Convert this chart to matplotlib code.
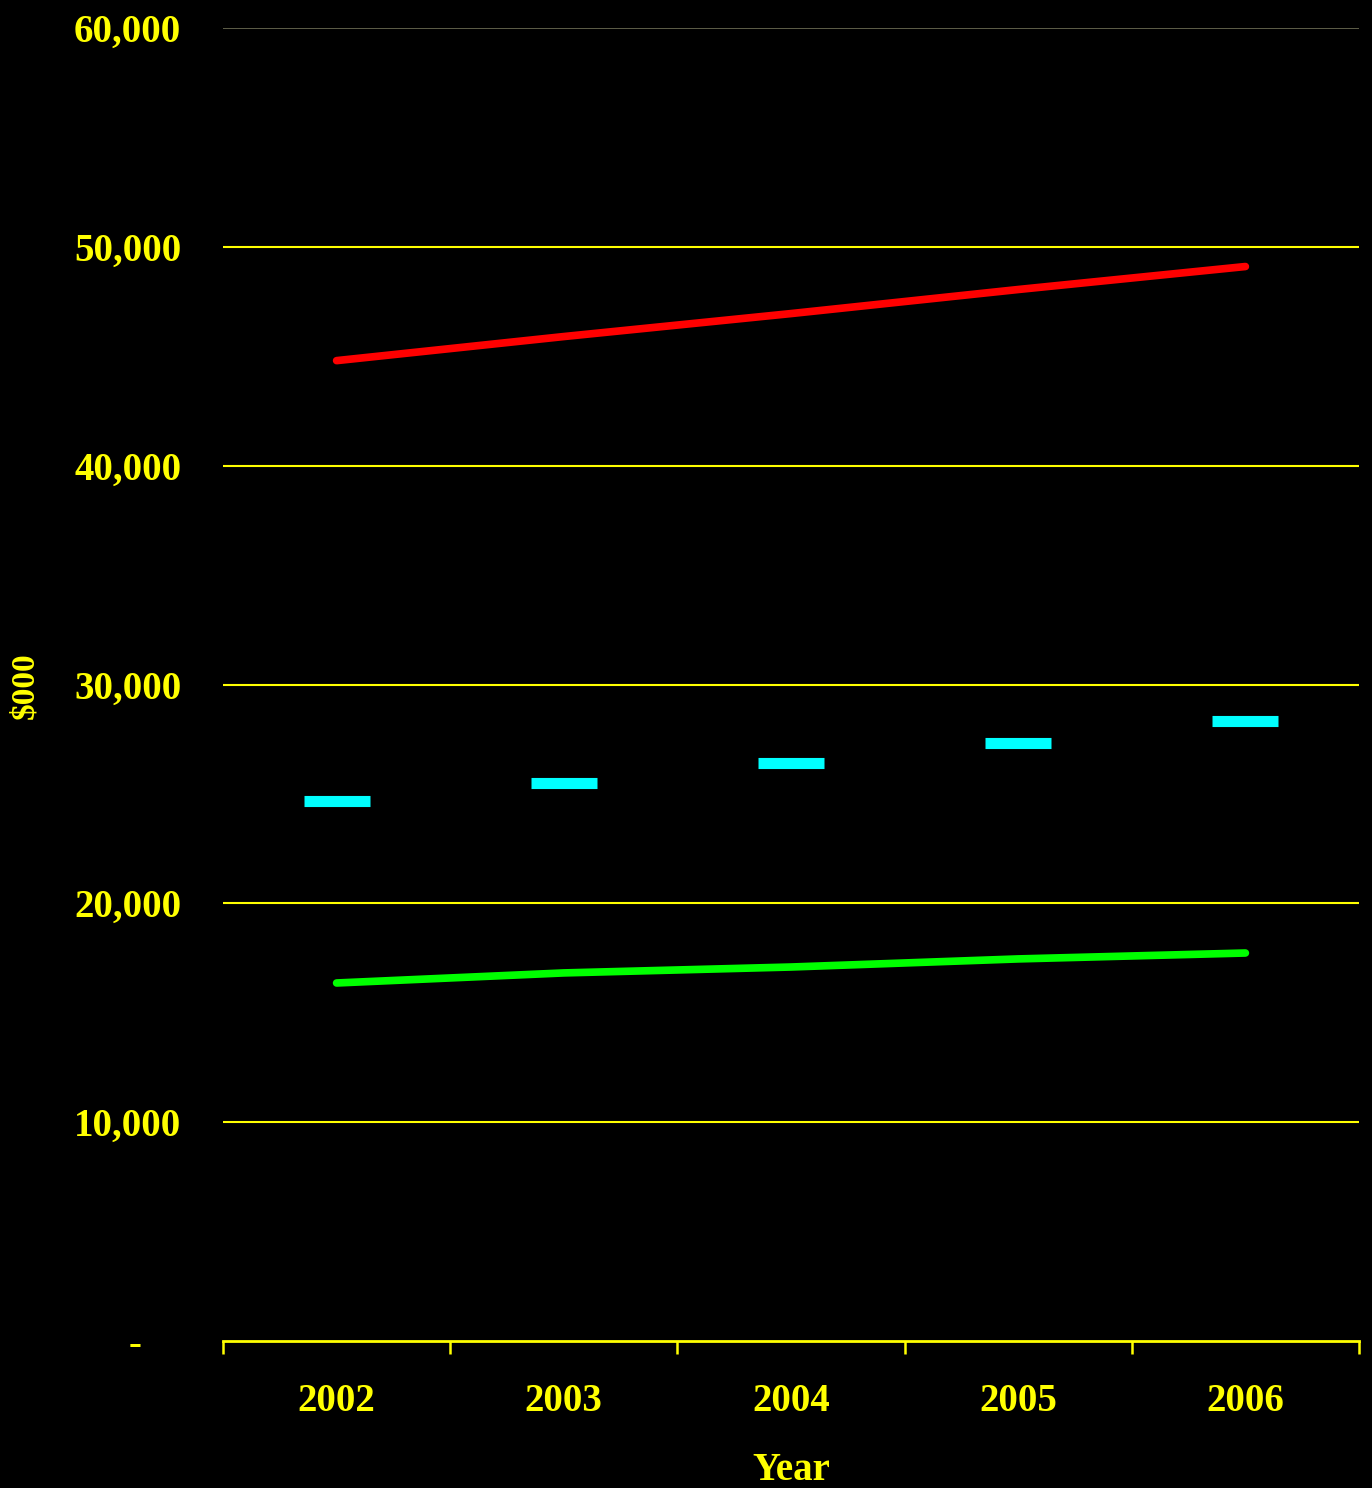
import numpy as np
import matplotlib
matplotlib.use("Agg")
import matplotlib.pyplot as plt
from matplotlib.ticker import FixedLocator, FuncFormatter

years = ["2002", "2003", "2004", "2005", "2006"]
upper = [44800, 45900, 46950, 48050, 49100]     # red line
middle = [24660, 25480, 26420, 27330, 28340]    # cyan dashes
lower = [16360, 16820, 17090, 17460, 17730]     # green line
yticks = [0, 10000, 20000, 30000, 40000, 50000, 60000]

YEL = "#ffff00"
plt.rcParams["font.family"] = ["Liberation Serif", "DejaVu Serif"]
plt.rcParams["font.weight"] = "bold"

fig = plt.figure(figsize=(13.72, 14.88), dpi=100, facecolor="black")
ax = fig.add_axes([223 / 1372, 1 - 1341 / 1488, 1136 / 1372, 1313 / 1488])
ax.set_facecolor("black")

x = np.arange(len(years))
ax.plot(x, upper, color="#ff0000", lw=5.5, solid_capstyle="round", zorder=3)
ax.plot(x, lower, color="#00ff00", lw=5.5, solid_capstyle="round", zorder=3)
ax.plot(x, middle, ls="none", marker="_", ms=47, mew=8, color="#00ffff", zorder=3)

ax.set_xlim(-0.5, len(years) - 0.5)
ax.set_ylim(0, 60000)

# y axis
ax.yaxis.set_major_locator(FixedLocator(yticks))
ax.yaxis.set_major_formatter(FuncFormatter(lambda v, p: "-    " if v == 0 else f"{int(v):,}"))
ax.tick_params(axis="y", length=0, pad=30, labelsize=28, labelcolor=YEL)
ax.yaxis.grid(True, color=YEL, lw=1.5)
gl = ax.yaxis.get_gridlines()
gl[0].set_visible(False)
gl[-1].set_color("#5e5e48")
gl[-1].set_linewidth(1.4)

# x axis: ticks at category borders, labels at centers
ax.xaxis.set_major_locator(FixedLocator(np.arange(-0.5, len(years), 1.0)))
ax.xaxis.set_major_formatter(FuncFormatter(lambda v, p: ""))
ax.xaxis.set_minor_locator(FixedLocator(x))
ax.xaxis.set_minor_formatter(FuncFormatter(lambda v, p: years[int(round(v))]))
ax.tick_params(axis="x", which="major", direction="out", length=9, width=1.8, color=YEL)
ax.tick_params(axis="x", which="minor", length=0, pad=30, labelsize=28, labelcolor=YEL)

for s in ["left", "right", "top"]:
    ax.spines[s].set_visible(False)
ax.spines["bottom"].set_color(YEL)
ax.spines["bottom"].set_linewidth(2)

fig.text(25 / 1372, 1 - 686 / 1488, "$000", rotation=90, ha="center", va="center",
         color=YEL, fontsize=24, fontweight="bold")
fig.text(791 / 1372, 1 - 1470 / 1488, "Year", ha="center", va="center",
         color=YEL, fontsize=28, fontweight="bold")

fig.savefig("out.png", dpi=100, facecolor="black")
